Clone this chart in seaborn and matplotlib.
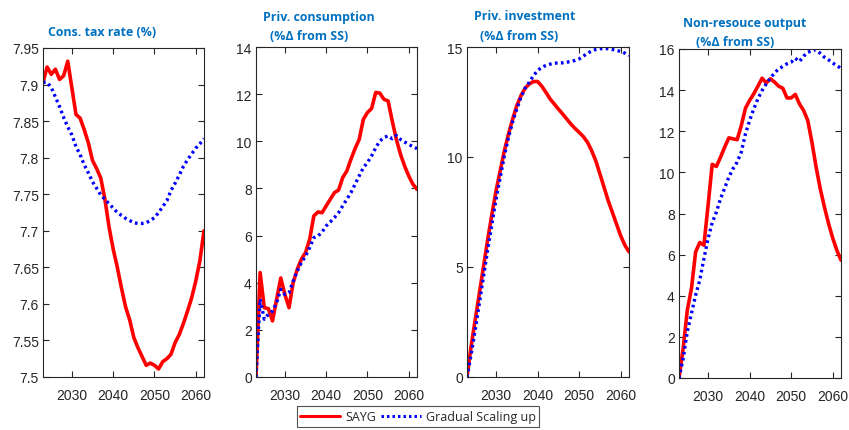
import numpy as np
import pandas as pd
import matplotlib
matplotlib.use("Agg")
import matplotlib.pyplot as plt
import seaborn as sns

years = list(range(2023, 2063))

tax_sayg = [7.903, 7.924, 7.914, 7.921, 7.907, 7.912, 7.932, 7.895, 7.859, 7.854,
            7.838, 7.820, 7.796, 7.785, 7.772, 7.743, 7.705, 7.675, 7.650, 7.622,
            7.596, 7.578, 7.554, 7.540, 7.528, 7.516, 7.519, 7.516, 7.511, 7.521,
            7.525, 7.531, 7.547, 7.558, 7.573, 7.590, 7.608, 7.631, 7.659, 7.700]
tax_grad = [7.903, 7.903, 7.896, 7.883, 7.870, 7.855, 7.842, 7.831, 7.815, 7.804,
            7.790, 7.779, 7.767, 7.758, 7.749, 7.743, 7.737, 7.731, 7.725, 7.721,
            7.717, 7.714, 7.711, 7.710, 7.710, 7.711, 7.714, 7.718, 7.725, 7.733,
            7.741, 7.755, 7.765, 7.776, 7.788, 7.797, 7.805, 7.813, 7.819, 7.826]

cons_sayg = [0.0, 4.43, 2.94, 2.90, 2.38, 3.30, 4.20, 3.50, 2.94, 4.00,
             4.57, 5.00, 5.28, 5.84, 6.83, 7.00, 6.97, 7.26, 7.54, 7.82,
             7.93, 8.46, 8.74, 9.24, 9.69, 10.08, 10.93, 11.22, 11.39, 12.07,
             12.04, 11.78, 11.71, 10.86, 10.08, 9.45, 8.95, 8.53, 8.18, 7.96]
cons_grad = [0.0, 3.30, 2.45, 2.66, 2.80, 3.15, 3.72, 3.50, 3.58, 4.07,
             4.50, 4.85, 5.13, 5.49, 5.91, 5.98, 6.15, 6.41, 6.58, 6.76,
             6.97, 7.26, 7.54, 7.82, 8.18, 8.53, 8.88, 9.10, 9.38, 9.73,
             10.01, 10.16, 10.23, 10.11, 10.25, 10.08, 9.97, 9.87, 9.77, 9.69]

inv_sayg = [0.0, 1.41, 2.63, 3.84, 5.05, 6.27, 7.40, 8.47, 9.38, 10.29,
            11.05, 11.73, 12.34, 12.79, 13.13, 13.32, 13.43, 13.43, 13.22, 12.94,
            12.64, 12.41, 12.18, 11.96, 11.73, 11.50, 11.30, 11.12, 10.93, 10.67,
            10.29, 9.83, 9.23, 8.62, 8.01, 7.48, 6.95, 6.42, 5.99, 5.69]
inv_grad = [0.0, 1.03, 2.17, 3.38, 4.60, 5.81, 6.95, 8.09, 9.07, 10.06,
            10.90, 11.61, 12.19, 12.72, 13.13, 13.40, 13.70, 13.93, 14.08, 14.16,
            14.22, 14.26, 14.28, 14.28, 14.31, 14.34, 14.39, 14.46, 14.58, 14.72,
            14.81, 14.89, 14.92, 14.93, 14.92, 14.89, 14.84, 14.80, 14.72, 14.61]

out_sayg = [0.0, 1.44, 3.30, 4.35, 6.13, 6.59, 6.46, 8.40, 10.39, 10.29,
            10.74, 11.23, 11.68, 11.63, 11.59, 12.28, 13.12, 13.50, 13.82, 14.19,
            14.58, 14.35, 14.55, 14.39, 14.19, 14.09, 13.62, 13.62, 13.79, 13.33,
            13.01, 12.52, 11.47, 10.26, 9.21, 8.32, 7.51, 6.81, 6.21, 5.73]
out_grad = [0.0, 0.95, 2.25, 3.14, 4.03, 4.76, 5.81, 6.78, 7.56, 8.07,
            8.72, 9.24, 9.77, 10.18, 10.50, 10.99, 11.88, 12.52, 13.09, 13.58,
            13.98, 14.30, 14.58, 14.84, 15.03, 15.15, 15.28, 15.36, 15.55, 15.39,
            15.65, 15.84, 15.92, 15.97, 15.79, 15.60, 15.47, 15.32, 15.19, 15.06]

title_lines = [
    ["Cons. tax rate (%)"],
    ["Priv. consumption", "(%\u0394 from SS)"],
    ["Priv. investment", "(%\u0394 from SS)"],
    ["Non-resouce output", "(%\u0394 from SS)"],
]
series_names = ["SAYG", "Gradual Scaling up"]
x_ticks = [2030, 2040, 2050, 2060]
y_ticks = [
    [7.5, 7.55, 7.6, 7.65, 7.7, 7.75, 7.8, 7.85, 7.9, 7.95],
    [0, 2, 4, 6, 8, 10, 12, 14],
    [0, 5, 10, 15],
    [0, 2, 4, 6, 8, 10, 12, 14, 16],
]
y_tick_labels = [
    ["7.5", "7.55", "7.6", "7.65", "7.7", "7.75", "7.8", "7.85", "7.9", "7.95"],
    ["0", "2", "4", "6", "8", "10", "12", "14"],
    ["0", "5", "10", "15"],
    ["0", "2", "4", "6", "8", "10", "12", "14", "16"],
]
y_lims = [(7.5, 7.95), (0, 14), (0, 15), (0, 16)]

panels = [(tax_sayg, tax_grad), (cons_sayg, cons_grad),
          (inv_sayg, inv_grad), (out_sayg, out_grad)]

sns.set_theme(style="white")
plt.rcParams["font.family"] = ["Liberation Sans", "DejaVu Sans"]

W, H = 849, 431
fig = plt.figure(figsize=(W / 100, H / 100), dpi=100)

# pixel boxes: left, top, right, bottom
boxes = [(43, 49, 204, 378), (256, 48, 417, 378), (467, 48, 629, 378), (679, 50, 841, 379)]
# (center x, center y) in pixels for each title line
title_pos = [
    [(102.5, 32)],
    [(318.5, 17), (309.5, 37)],
    [(525, 17), (519.5, 37)],
    [(744.5, 23), (735, 43)],
]

tick_color = "#262626"
handles = None
for i, (box, (s1, s2)) in enumerate(zip(boxes, panels)):
    l, t, r, b = box
    ax = fig.add_axes([l / W, 1 - b / H, (r - l) / W, (b - t) / H])
    df = pd.DataFrame({"year": years, series_names[0]: s1, series_names[1]: s2})
    sns.lineplot(data=df, x="year", y=series_names[0], ax=ax, color="#FF0000",
                 linewidth=2.6, label=series_names[0], legend=False)
    sns.lineplot(data=df, x="year", y=series_names[1], ax=ax, color="#0000FF",
                 linewidth=2.4, linestyle=(0, (0.8, 1.0)), label=series_names[1], legend=False)
    ax.set_xlim(2023, 2062)
    ax.set_ylim(*y_lims[i])
    ax.set_xticks(x_ticks)
    ax.set_xticklabels([str(v) for v in x_ticks])
    ax.set_yticks(y_ticks[i])
    ax.set_yticklabels(y_tick_labels[i])
    ax.set_xlabel("")
    ax.set_ylabel("")
    ax.tick_params(direction="in", length=4, width=0.8, colors=tick_color,
                   labelsize=10, top=True, right=True, bottom=True, left=True,
                   labelcolor="#262626", pad=3)
    ax.tick_params(axis="x", pad=8)
    for sp in ax.spines.values():
        sp.set_visible(True)
        sp.set_color(tick_color)
        sp.set_linewidth(0.8)
    ax.grid(False)
    ax.set_facecolor("white")
    for txt, (cx, cy) in zip(title_lines[i], title_pos[i]):
        fig.text(cx / W, 1 - cy / H, txt, ha="center", va="center",
                 fontsize=8.9, fontweight="bold", color="#0070C0",
                 family=["Open Sans", "DejaVu Sans"])
    if handles is None:
        handles, labels = ax.get_legend_handles_labels()

leg = fig.legend(handles, labels, loc="center", bbox_to_anchor=(418 / W, 1 - 417.5 / H),
                 ncol=2, frameon=True, fancybox=False, edgecolor="#262626",
                 prop={"family": "Open Sans", "size": 9}, handlelength=3.2,
                 columnspacing=0.35, handletextpad=0.4, borderpad=0.3,
                 borderaxespad=0)
leg.get_frame().set_linewidth(0.8)
for lh in leg.get_lines():
    lh.set_linewidth(2.2)

fig.savefig("out.png", dpi=100)
